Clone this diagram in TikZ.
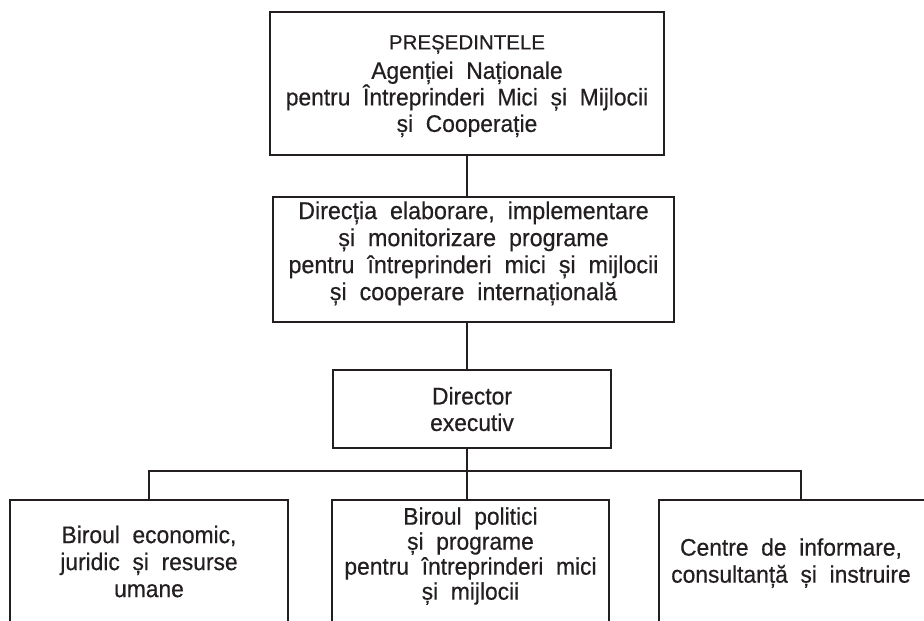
\documentclass[tikz,border=0pt]{standalone}
\usepackage{fontspec}
\setmainfont[FakeStretch=0.95,WordSpace=2,FakeBold=0.5]{Liberation Sans}
\newfontfamily\presfont[WordSpace=2,FakeBold=0.5]{Liberation Sans}
\definecolor{ink}{HTML}{231F20}
\begin{document}
\begin{tikzpicture}[x=1pt,y=-1pt,
  box/.style={draw=ink, line width=1.8pt, align=center, inner sep=0pt, text=ink},
  frame/.style={draw=ink, line width=1.8pt, inner sep=0pt, anchor=north},
  lbl/.style={align=center, inner sep=0pt, text=ink, font=\fontsize{24}{27}\selectfont},
  link/.style={draw=ink, line width=1.8pt}]
\useasboundingbox (0,0) rectangle (924,621);
\clip (0,0) rectangle (924,621);
% boxes
\node[box, minimum width=394pt, minimum height=143pt, text depth=0pt,
  font=\fontsize{24}{26.5}\selectfont] (pres) at (467,83.5)
  {{\presfont\fontsize{20.5}{26.5}\selectfont PREȘEDINTELE}\\[3pt]Agenției Naționale\\pentru Întreprinderi Mici și Mijlocii\\și Cooperație};
\node[box, minimum width=401pt, minimum height=125pt, text depth=17.5pt,
  font=\fontsize{24.5}{27}\selectfont] (dir) at (473.5,259.5)
  {Direcția elaborare, implementare\\și monitorizare programe\\pentru întreprinderi mici și mijlocii\\și cooperare internațională};
\node[box, minimum width=278pt, minimum height=78pt, text depth=0pt,
  font=\fontsize{24}{26.5}\selectfont] (exec) at (472,409)
  {Director\\executiv};
\node[frame, minimum width=278pt, minimum height=150pt] (b1) at (149,499) {};
\node[frame, minimum width=277pt, minimum height=150pt] (b2) at (470.5,499) {};
\node[frame, minimum width=284pt, minimum height=150pt] (b3) at (801,499) {};
\node[lbl] (b1t) at (149,561.5) {Biroul economic,\\juridic și resurse\\umane};
\node[lbl, font=\fontsize{24}{25}\selectfont] (b2t) at (470.5,556)
  {Biroul politici\\și programe\\pentru întreprinderi mici\\și mijlocii};
\node[lbl] (b3t) at (791,563) {Centre de informare,\\consultanță și instruire};
% connectors
\draw[link] (pres.south) -- (pres.south |- dir.north);
\draw[link] (dir.south -| pres.south) -- (pres.south |- exec.north);
\draw[link] (exec.south -| pres.south) -- (pres.south |- b2.north);
\draw[link] (b1.north) -- ++(0,-28) -| (b3.north);
\end{tikzpicture}
\end{document}
